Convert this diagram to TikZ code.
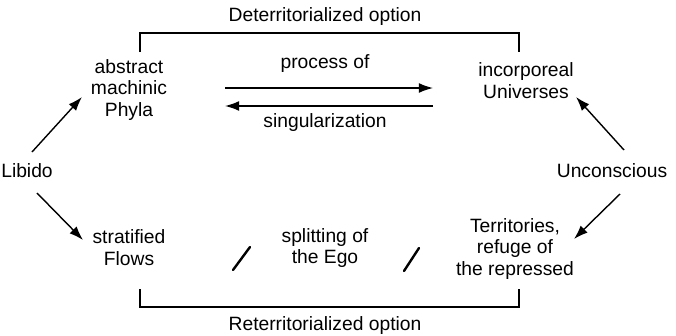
\documentclass[tikz,border=0pt]{standalone}
\usepackage{fontspec}
\setmainfont{Liberation Sans}
\usetikzlibrary{arrows.meta}

\tikzset{
  lbl/.style={align=center, inner sep=1pt, font=\fontsize{13.7}{15.6}\selectfont},
  arr/.style={-{Latex[length=10pt,width=7pt]}, line width=1pt},
  brk/.style={line width=1.4pt},
  slash/.style={line width=1.7pt, line cap=round},
}

\begin{document}
\begin{tikzpicture}[x=0.025cm,y=-0.025cm]
  \useasboundingbox (0,0) rectangle (676,335);

  % the four corners
  \node[lbl] (phyla) at (129,90) {abstract\\machinic\\Phyla};
  \node[lbl] (univ) at (526,81) {incorporeal\\Universes};
  \node[lbl] (flows) at (129,248) {stratified\\Flows};
  \node[lbl] (terr) at (515,249) {Territories,\\refuge of\\the repressed};
  \node[lbl] (ego) at (325,248) {splitting of\\the Ego};

  % sides
  \node[lbl] (libido) at (27,171) {Libido};
  \node[lbl] (uncon) at (612,171) {Unconscious};

  % options
  \node[lbl] (deterr) at (325,17) {Deterritorialized option};
  \node[lbl] (reterr) at (325,326) {Reterritorialized option};
  \coordinate (dl) at (140,52);
  \coordinate (dr) at (519,52);
  \coordinate (rl) at (140,289);
  \coordinate (rr) at (519,289);
  \draw[brk] (dl) -- (dl |- 0,33) -- (dr |- 0,33) -- (dr);
  \draw[brk] (rl) -- (rl |- 0,307) -- (rr |- 0,307) -- (rr);

  % process of singularization
  \coordinate (pl) at (225,88);
  \coordinate (pr) at (433,88);
  \coordinate (sl) at (225,106);
  \coordinate (sr) at (433,106);
  \draw[arr] (pl) -- (pr);
  \draw[arr] (sr) -- (sl);
  \node[lbl] (proc) at (325,64) {process of};
  \node[lbl] (sing) at (325,123) {singularization};

  % libido and unconscious
  \coordinate (lu) at (32,152);
  \coordinate (ld) at (37,193);
  \coordinate (uu) at (624,150);
  \coordinate (ud) at (620,194);
  \coordinate (phyin) at (82,97);
  \coordinate (flowin) at (83,240);
  \coordinate (univin) at (576,97);
  \coordinate (terrin) at (574,239);
  \draw[arr] (lu) -- (phyin);
  \draw[arr] (ld) -- (flowin);
  \draw[arr] (uu) -- (univin);
  \draw[arr] (ud) -- (terrin);

  % splits
  \draw[slash] (233,270) -- (250,247);
  \draw[slash] (404,271) -- (419,248);
\end{tikzpicture}
\end{document}
